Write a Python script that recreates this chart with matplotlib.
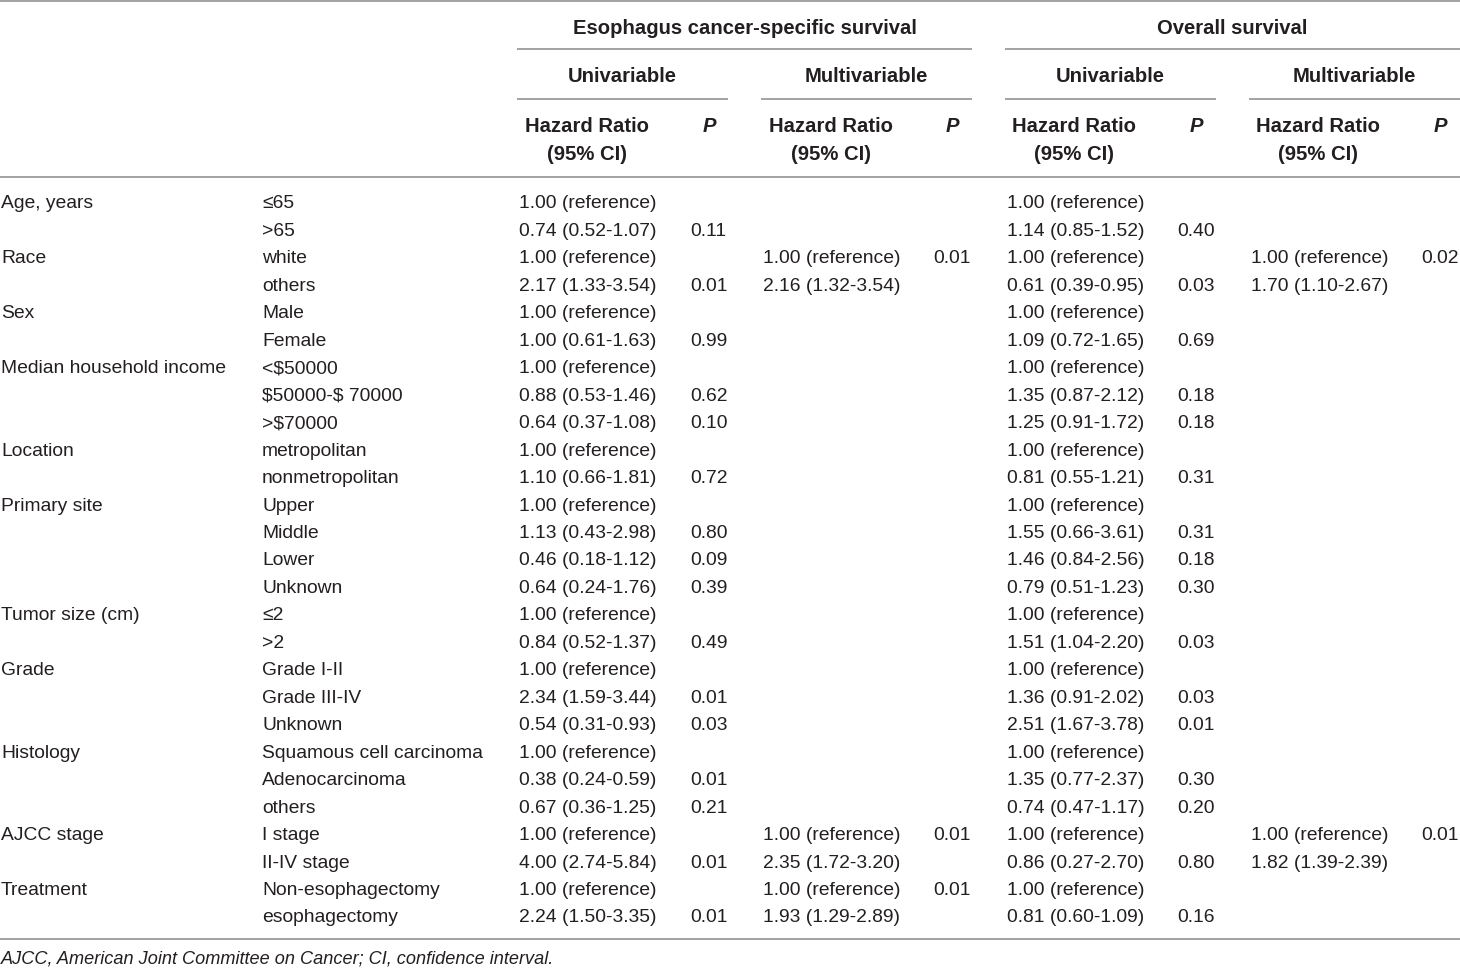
import matplotlib
matplotlib.use('Agg')
import matplotlib.pyplot as plt

# table content
factors = ['Age, years', '', 'Race', '', 'Sex', '', 'Median household income', '', '',
           'Location', '', 'Primary site', '', '', '', 'Tumor size (cm)', '', 'Grade', '', '',
           'Histology', '', '', 'AJCC stage', '', 'Treatment', '']
levels = ['≤65', '>65', 'white', 'others', 'Male', 'Female', '<$50000', '$50000-$ 70000', '>$70000',
          'metropolitan', 'nonmetropolitan', 'Upper', 'Middle', 'Lower', 'Unknown', '≤2', '>2',
          'Grade I-II', 'Grade III-IV', 'Unknown', 'Squamous cell carcinoma', 'Adenocarcinoma',
          'others', 'I stage', 'II-IV stage', 'Non-esophagectomy', 'esophagectomy']

REF = '1.00 (reference)'
cs_uni_hr = [REF, '0.74 (0.52-1.07)', REF, '2.17 (1.33-3.54)', REF, '1.00 (0.61-1.63)', REF,
             '0.88 (0.53-1.46)', '0.64 (0.37-1.08)', REF, '1.10 (0.66-1.81)', REF,
             '1.13 (0.43-2.98)', '0.46 (0.18-1.12)', '0.64 (0.24-1.76)', REF, '0.84 (0.52-1.37)',
             REF, '2.34 (1.59-3.44)', '0.54 (0.31-0.93)', REF, '0.38 (0.24-0.59)',
             '0.67 (0.36-1.25)', REF, '4.00 (2.74-5.84)', REF, '2.24 (1.50-3.35)']
cs_uni_p = ['', '0.11', '', '0.01', '', '0.99', '', '0.62', '0.10', '', '0.72', '', '0.80', '0.09',
            '0.39', '', '0.49', '', '0.01', '0.03', '', '0.01', '0.21', '', '0.01', '', '0.01']
cs_multi_hr = ['', '', REF, '2.16 (1.32-3.54)'] + [''] * 19 + [REF, '2.35 (1.72-3.20)', REF, '1.93 (1.29-2.89)']
cs_multi_p = ['', '', '0.01', ''] + [''] * 19 + ['0.01', '', '0.01', '']
os_uni_hr = [REF, '1.14 (0.85-1.52)', REF, '0.61 (0.39-0.95)', REF, '1.09 (0.72-1.65)', REF,
             '1.35 (0.87-2.12)', '1.25 (0.91-1.72)', REF, '0.81 (0.55-1.21)', REF,
             '1.55 (0.66-3.61)', '1.46 (0.84-2.56)', '0.79 (0.51-1.23)', REF, '1.51 (1.04-2.20)',
             REF, '1.36 (0.91-2.02)', '2.51 (1.67-3.78)', REF, '1.35 (0.77-2.37)',
             '0.74 (0.47-1.17)', REF, '0.86 (0.27-2.70)', REF, '0.81 (0.60-1.09)']
os_uni_p = ['', '0.40', '', '0.03', '', '0.69', '', '0.18', '0.18', '', '0.31', '', '0.31', '0.18',
            '0.30', '', '0.03', '', '0.03', '0.01', '', '0.30', '0.20', '', '0.80', '', '0.16']
os_multi_hr = ['', '', REF, '1.70 (1.10-2.67)'] + [''] * 19 + [REF, '1.82 (1.39-2.39)', '', '']
os_multi_p = ['', '', '0.02', ''] + [''] * 19 + ['0.01', '', '', '']

footnote = 'AJCC, American Joint Committee on Cancer; CI, confidence interval.'

W, H = 1460, 970
TXT = '#231f20'
LINE = '#a3a3a3'
FS = 13.9
plt.rcParams['font.family'] = ['Liberation Sans', 'DejaVu Sans']
plt.rcParams['text.parse_math'] = False  # keep the $ signs literal

fig = plt.figure(figsize=(W / 100, H / 100), dpi=100)
ax = fig.add_axes([0, 0, 1, 1])
ax.set_xlim(0, W)
ax.set_ylim(H, 0)
ax.axis('off')

def hline(y, x0, x1):
    ax.plot([x0, x1], [y, y], color=LINE, lw=1.4, solid_capstyle='butt')

# rules
hline(1.5, 0, W)
hline(50, 517, 972)
hline(50, 1005, W)
for x0, x1 in [(517, 728), (761, 972), (1005, 1216), (1249, W)]:
    hline(100, x0, x1)
hline(178, 0, W)
hline(940, 0, W)

# header
bold = dict(fontsize=14.6, fontweight='bold', color=TXT, va='center', ha='center')
ax.text(745, 28, 'Esophagus cancer-specific survival', **bold)
ax.text(1232, 28, 'Overall survival', **bold)
for xc, lab in [(622, 'Univariable'), (866, 'Multivariable'), (1110, 'Univariable'), (1354, 'Multivariable')]:
    ax.text(xc, 77, lab, **bold)
for xh, xp in [(587, 709), (831, 952), (1074, 1196), (1318, 1440)]:
    ax.text(xh, 127, 'Hazard Ratio', **bold)
    ax.text(xh, 155, '(95% CI)', **bold)
    ax.text(xp, 127, 'P', style='italic', **bold)

# body
y0, dy = 204, 27.46
cols = [(1, factors), (262, levels), (519, cs_uni_hr), (690, cs_uni_p),
        (763, cs_multi_hr), (933, cs_multi_p), (1007, os_uni_hr), (1177, os_uni_p),
        (1251, os_multi_hr), (1421, os_multi_p)]
for x, vals in cols:
    for i, v in enumerate(vals):
        if v:
            ax.text(x, y0 + i * dy, v, fontsize=FS, color=TXT, va='center', ha='left')

ax.text(1, 959, footnote, fontsize=13.1, style='italic', color=TXT, va='center', ha='left')

fig.savefig('out.png', dpi=100)
